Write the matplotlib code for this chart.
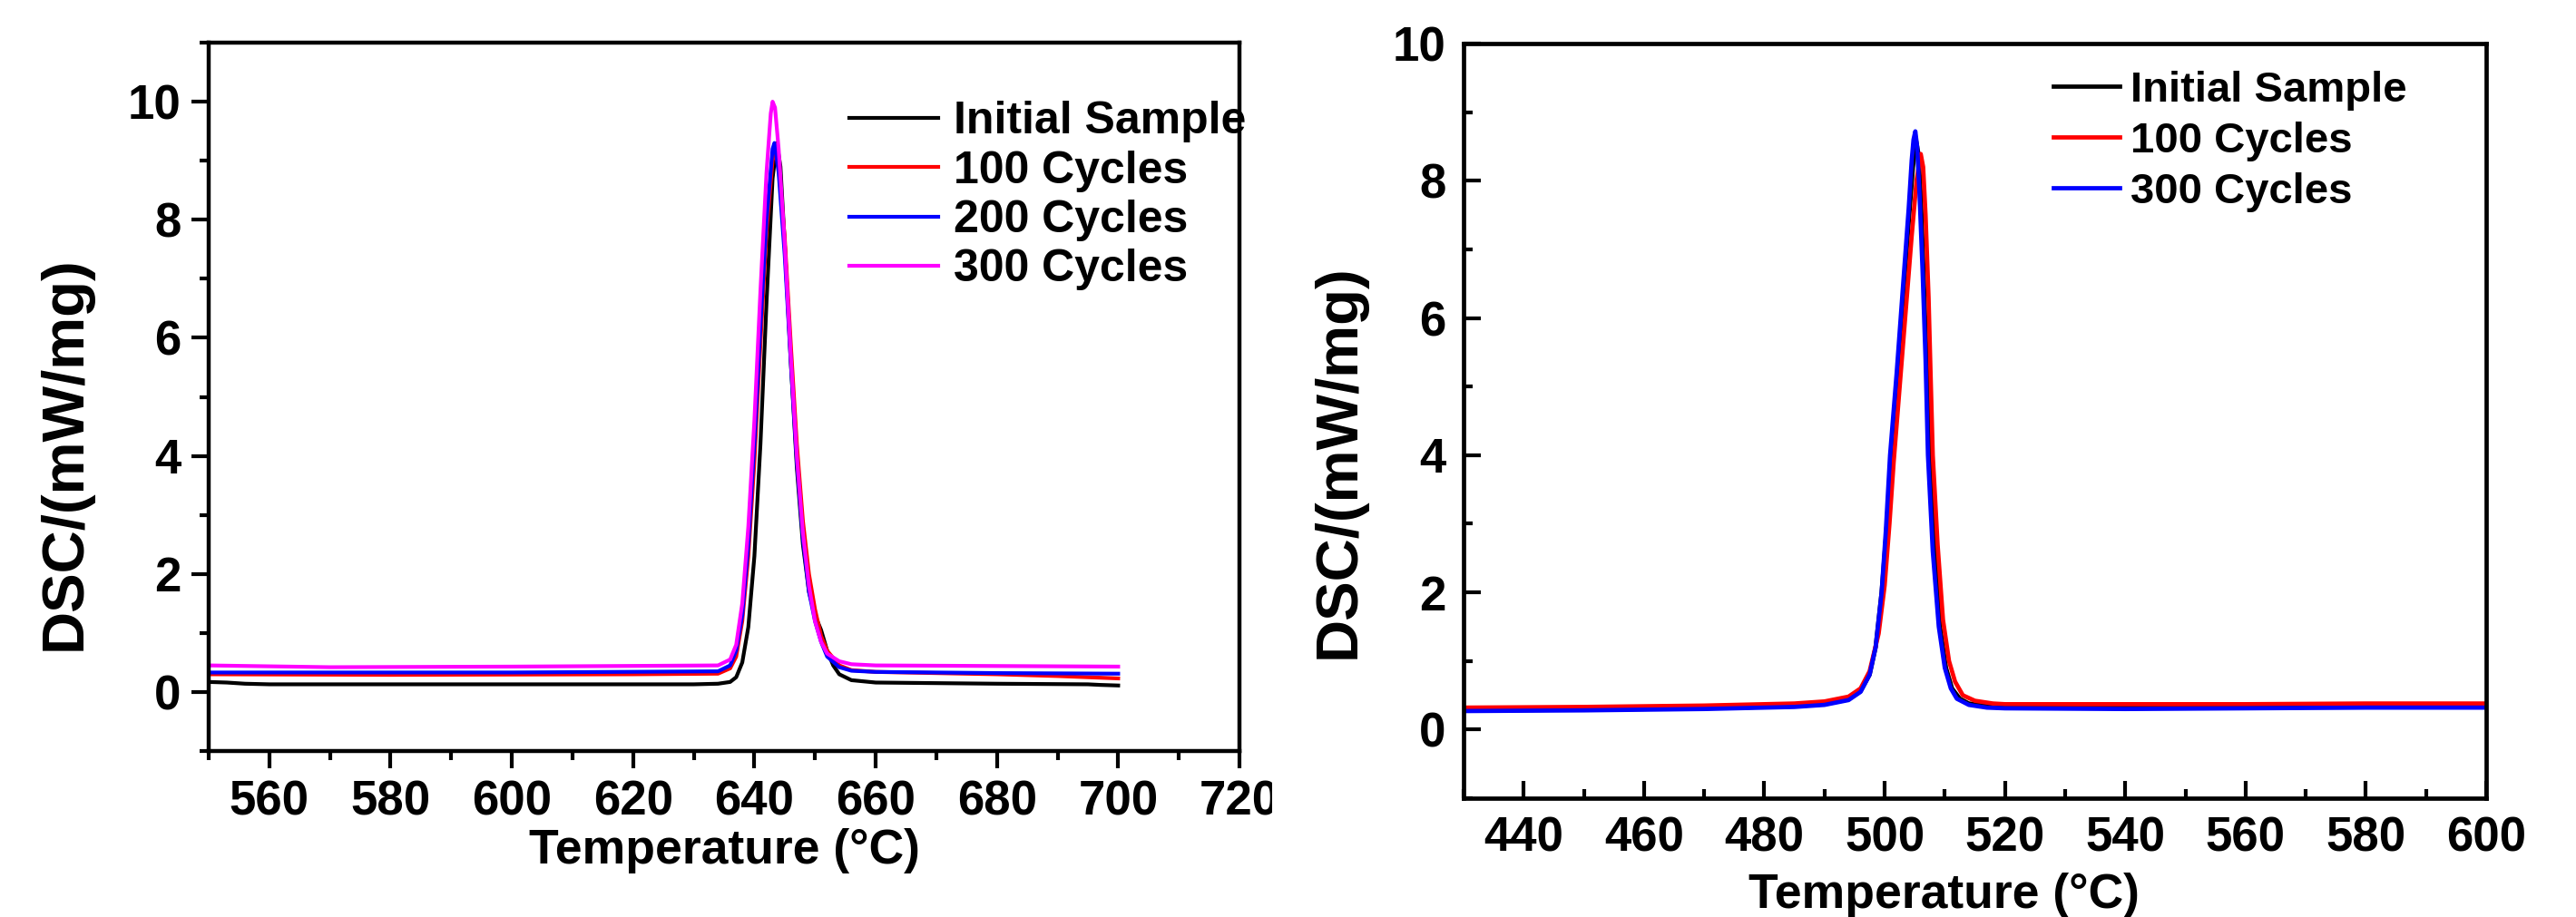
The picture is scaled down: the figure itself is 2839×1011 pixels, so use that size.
import matplotlib
matplotlib.use("Agg")
import matplotlib.pyplot as plt
from matplotlib.patches import Rectangle
from matplotlib.ticker import MultipleLocator

plt.rcParams['font.family'] = ['Liberation Sans', 'DejaVu Sans']
plt.rcParams['font.weight'] = 'bold'

# ---------------- Left panel data ----------------
left_labels = ["Initial Sample", "100 Cycles", "200 Cycles", "300 Cycles"]
left_colors = ["black", "red", "blue", "magenta"]

l_init_T = [550, 553, 556, 560, 600, 630, 634, 636, 637, 638, 639, 640, 641, 642, 643, 643.7,
            644.3, 645, 646, 647, 648, 649, 650, 651, 652, 653, 654, 656, 660, 680, 695, 697, 700]
l_init_Y = [0.17, 0.16, 0.14, 0.13, 0.13, 0.13, 0.14, 0.17, 0.25, 0.5, 1.1, 2.3, 4.2, 6.6, 8.7, 9.3,
            8.9, 7.6, 5.6, 3.8, 2.5, 1.7, 1.3, 1.05, 0.7, 0.45, 0.3, 0.2, 0.16, 0.14, 0.13, 0.12, 0.11]

l_100_T = [550, 580, 620, 634, 636, 637, 638, 639, 640, 641, 642, 643, 643.5, 644, 645, 646, 647,
           648, 649, 650, 651, 652, 654, 656, 660, 680, 690, 700]
l_100_Y = [0.30, 0.29, 0.30, 0.31, 0.40, 0.6, 1.2, 2.3, 3.9, 5.9, 7.8, 9.0, 9.2, 8.9, 7.7, 5.9, 4.2,
           2.9, 2.0, 1.4, 0.95, 0.7, 0.45, 0.37, 0.34, 0.30, 0.27, 0.23]

l_200_T = [550, 600, 634, 636, 637, 638, 639, 640, 641, 642, 643, 643.3, 644, 645, 646, 647, 648,
           649, 650, 651, 652, 654, 656, 660, 680, 700]
l_200_Y = [0.33, 0.33, 0.35, 0.45, 0.7, 1.3, 2.5, 4.2, 6.2, 8.0, 9.2, 9.3, 8.8, 7.4, 5.6, 3.9, 2.6,
           1.7, 1.2, 0.85, 0.6, 0.42, 0.36, 0.34, 0.32, 0.31]

l_300_T = [550, 570, 600, 634, 636, 637, 638, 639, 640, 641, 642, 642.7, 643, 643.4, 644, 645, 646,
           647, 648, 649, 650, 651, 652, 654, 656, 660, 680, 700]
l_300_Y = [0.45, 0.42, 0.43, 0.45, 0.55, 0.8, 1.5, 2.8, 4.6, 6.8, 8.8, 9.8, 10.0, 9.9, 9.2, 7.6, 5.7,
           4.0, 2.7, 1.8, 1.2, 0.85, 0.65, 0.52, 0.47, 0.45, 0.44, 0.43]

left_T = [l_init_T, l_100_T, l_200_T, l_300_T]
left_Y = [l_init_Y, l_100_Y, l_200_Y, l_300_Y]

# ---------------- Right panel data ----------------
right_labels = ["Initial Sample", "100 Cycles", "300 Cycles"]
right_colors = ["black", "red", "blue"]

r_init_T = [430, 450, 470, 485, 490, 494, 496, 497.5, 498.5, 499.5, 500.3, 501.0, 502.0, 503.0,
            504.0, 504.7, 505.2, 505.6, 506.0, 506.5, 507.0, 507.5, 508.3, 509.2, 510.2, 511.2,
            512.5, 514, 517, 520, 540, 560, 580, 600]
r_init_Y = [0.28, 0.29, 0.31, 0.34, 0.37, 0.44, 0.56, 0.8, 1.2, 2.0, 2.9, 3.9, 5.0, 6.2,
            7.4, 8.2, 8.6, 8.4, 7.8, 6.6, 5.3, 4.0, 2.6, 1.5, 0.9, 0.6,
            0.45, 0.38, 0.35, 0.34, 0.33, 0.34, 0.35, 0.35]

r_100_T = [430, 450, 470, 485, 490, 494, 496, 497.5, 499, 500, 500.8, 501.5, 502.5, 503.5, 504.5,
           505.3, 506.0, 506.4, 506.8, 507.3, 507.6, 508.0, 508.8, 509.7, 510.7, 511.7, 513,
           515, 518, 520, 540, 560, 580, 600]
r_100_Y = [0.32, 0.33, 0.35, 0.38, 0.41, 0.48, 0.6, 0.85, 1.4, 2.1, 3.0, 3.9, 5.0, 6.1, 7.2,
           8.0, 8.39, 8.2, 7.5, 6.3, 5.3, 4.0, 2.7, 1.6, 1.0, 0.7, 0.5,
           0.42, 0.38, 0.37, 0.37, 0.37, 0.38, 0.38]

r_300_T = [430, 450, 470, 485, 490, 494, 496, 497.5, 498.5, 499.5, 500.2, 500.9, 502.0, 503.0,
           504.0, 504.5, 504.8, 505.1, 505.4, 505.8, 506.3, 506.8, 507.2, 508.0, 509.0, 510.0,
           511.0, 512.0, 514, 517, 520, 540, 560, 580, 600]
r_300_Y = [0.27, 0.28, 0.30, 0.33, 0.36, 0.43, 0.55, 0.8, 1.2, 2.0, 2.9, 4.0, 5.2, 6.4,
           7.6, 8.3, 8.6, 8.72, 8.5, 7.8, 6.7, 5.4, 4.0, 2.6, 1.5, 0.9,
           0.6, 0.45, 0.36, 0.32, 0.31, 0.30, 0.31, 0.32, 0.32]

right_T = [r_init_T, r_100_T, r_300_T]
right_Y = [r_init_Y, r_100_Y, r_300_Y]

W, H = 2839, 1011
fig = plt.figure(figsize=(W / 100, H / 100), dpi=100)

TICK_FS = 38
XLABEL_FS = 38.5
YLABEL_FS = 47
LEG_FS_L = 36
LEG_FS_R = 34

# ---------- Left axes ----------
axL = fig.add_axes([230 / W, 1 - 828 / H, (1366 - 230) / W, (828 - 47) / H])
for T, Y, c, lab in zip(left_T, left_Y, left_colors, left_labels):
    axL.plot(T, Y, color=c, lw=3.0, label=lab)
axL.set_xlim(550, 720)
axL.set_ylim(-1, 11)
axL.xaxis.set_major_locator(MultipleLocator(20))
axL.xaxis.set_minor_locator(MultipleLocator(10))
axL.set_yticks([0, 2, 4, 6, 8, 10])
axL.yaxis.set_minor_locator(MultipleLocator(1))
axL.tick_params(which='both', direction='out', width=3, labelsize=TICK_FS)
axL.tick_params(which='major', length=14)
axL.tick_params(which='minor', length=7)
axL.tick_params(axis='y', pad=8)
axL.tick_params(axis='x', pad=9)
for s in axL.spines.values():
    s.set_linewidth(3.2)
axL.set_xlabel("Temperature (°C)", fontsize=XLABEL_FS, fontweight='bold')
axL.set_ylabel("DSC/(mW/mg)", fontsize=YLABEL_FS, fontweight='bold')
axL.xaxis.set_label_coords(0.5, -0.141)
axL.xaxis.label.set_verticalalignment('center')
axL.yaxis.set_label_coords(-0.139, 0.42)
axL.yaxis.label.set_verticalalignment('center')
for t in axL.get_xticklabels() + axL.get_yticklabels():
    t.set_fontweight('bold')
legL = axL.legend(loc='upper left', bbox_to_anchor=(936 / W, 1 - 111 / H),
                  bbox_transform=fig.transFigure, frameon=False, fontsize=LEG_FS_L,
                  handlelength=1.95, handletextpad=0.35, labelspacing=0.17, borderpad=0,
                  borderaxespad=0)
for t in legL.get_texts():
    t.set_fontweight('bold')
for l in legL.get_lines():
    l.set_linewidth(3.0)

# ---------- Right axes ----------
axR = fig.add_axes([1613 / W, 1 - 880 / H, (2740 - 1613) / W, (880 - 48) / H])
for T, Y, c, lab in zip(right_T, right_Y, right_colors, right_labels):
    axR.plot(T, Y, color=c, lw=3.4, label=lab)
axR.set_xlim(430, 600)
axR.set_ylim(-1, 10)
axR.set_xticks([440, 460, 480, 500, 520, 540, 560, 580, 600])
axR.xaxis.set_minor_locator(MultipleLocator(10))
axR.set_yticks([0, 2, 4, 6, 8, 10])
axR.yaxis.set_minor_locator(MultipleLocator(1))
axR.tick_params(which='both', direction='in', width=3, labelsize=TICK_FS)
axR.tick_params(which='major', length=14)
axR.tick_params(which='minor', length=7)
axR.tick_params(axis='y', pad=14)
axR.tick_params(axis='x', pad=14)
for s in axR.spines.values():
    s.set_linewidth(3.4)
axR.set_xlabel("Temperature (°C)", fontsize=XLABEL_FS, fontweight='bold')
axR.set_ylabel("DSC/(mW/mg)", fontsize=YLABEL_FS, fontweight='bold')
axR.xaxis.set_label_coords(0.47, -0.129)
axR.xaxis.label.set_verticalalignment('center')
axR.yaxis.set_label_coords(-0.122, 0.446)
axR.yaxis.label.set_verticalalignment('center')
for t in axR.get_xticklabels() + axR.get_yticklabels():
    t.set_fontweight('bold')
legR = axR.legend(loc='upper left', bbox_to_anchor=(2263 / W, 1 - 78 / H),
                  bbox_transform=fig.transFigure, frameon=False, fontsize=LEG_FS_R,
                  handlelength=1.55, handletextpad=0.25, labelspacing=0.25, borderpad=0,
                  borderaxespad=0)
for t in legR.get_texts():
    t.set_fontweight('bold')
for l in legR.get_lines():
    l.set_linewidth(3.4)

# white occluder that clips the last left tick label, as in the source image
fig.add_artist(Rectangle((1402 / W, 1 - 960 / H), 100 / W, 120 / H,
                         transform=fig.transFigure, facecolor='white',
                         edgecolor='none', zorder=10))

fig.savefig("out.png", dpi=100, facecolor='white')
